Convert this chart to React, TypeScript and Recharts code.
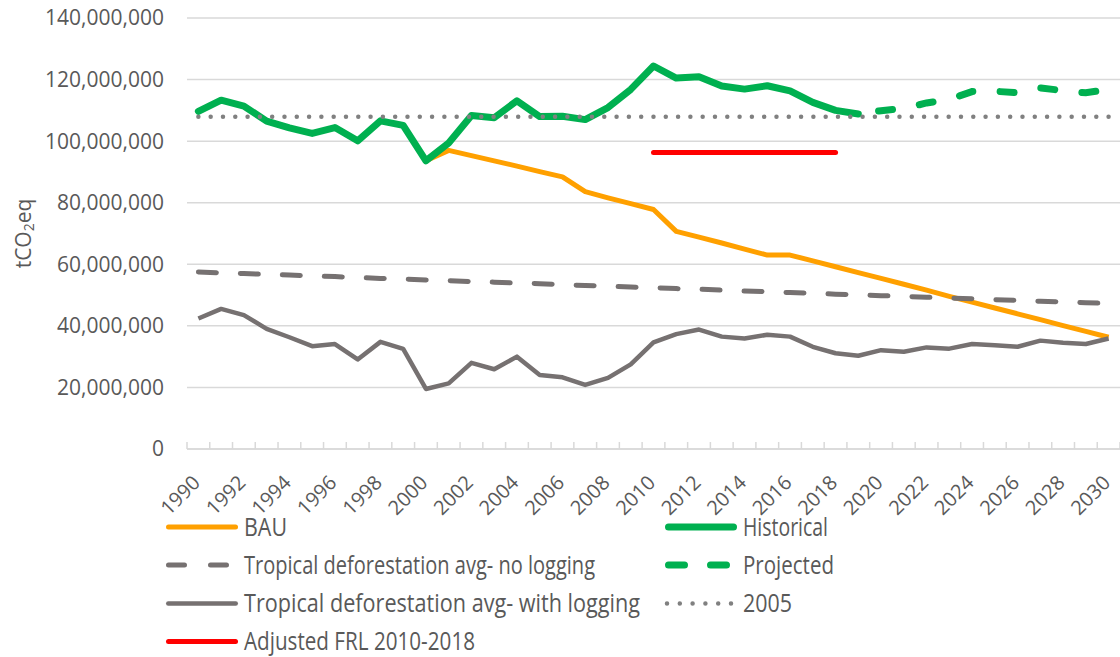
import React from "react";
import {
  LineChart,
  Line,
  XAxis,
  YAxis,
  CartesianGrid,
  ReferenceLine,
} from "recharts";

// values in million tCO2eq
const years = [
  1990, 1991, 1992, 1993, 1994, 1995, 1996, 1997, 1998, 1999, 2000, 2001, 2002, 2003,
  2004, 2005, 2006, 2007, 2008, 2009, 2010, 2011, 2012, 2013, 2014, 2015, 2016, 2017,
  2018, 2019, 2020, 2021, 2022, 2023, 2024, 2025, 2026, 2027, 2028, 2029, 2030,
];

// 1990-2019
const historical = [
  109.7, 113.3, 111.4, 106.5, 104.3, 102.5, 104.4, 100.1, 106.6, 105.1, 93.6, 99.4, 108.3,
  107.6, 113.1, 108.0, 108.1, 107.0, 110.9, 116.8, 124.4, 120.5, 120.9, 117.9, 116.9,
  118.0, 116.3, 112.6, 110.0, 108.8,
];

// 2019-2030
const projected = [108.8, 109.9, 110.6, 112.4, 113.6, 116.1, 116.2, 115.7, 117.3, 116.4, 115.7, 116.8];

// 2000-2030
const bau = [
  93.6, 97.0, 95.3, 93.6, 91.9, 90.1, 88.4, 83.6, 81.6, 79.7, 77.8, 70.7, 68.8, 66.9, 64.9,
  63.0, 63.0, 61.1, 59.2, 57.3, 55.4, 53.5, 51.6, 49.6, 47.7, 45.8, 43.9, 42.0, 40.1, 38.2,
  36.3,
];

// 1990-2030
const noLogging = [
  57.5, 57.2, 57.0, 56.7, 56.5, 56.2, 56.0, 55.7, 55.4, 55.2, 54.9, 54.7, 54.4, 54.2, 53.9,
  53.7, 53.4, 53.1, 52.9, 52.6, 52.4, 52.1, 51.9, 51.6, 51.3, 51.1, 50.8, 50.6, 50.3, 50.1,
  49.8, 49.6, 49.3, 49.0, 48.8, 48.5, 48.3, 48.0, 47.8, 47.5, 47.3,
];

// 1990-2030
const withLogging = [
  42.4, 45.5, 43.5, 39.0, 36.3, 33.4, 34.1, 29.1, 34.8, 32.5, 19.5, 21.3, 28.0, 25.9, 30.0,
  24.0, 23.3, 20.8, 23.1, 27.5, 34.6, 37.3, 38.8, 36.5, 35.9, 37.1, 36.5, 33.2, 31.1, 30.3,
  32.1, 31.6, 33.0, 32.6, 34.1, 33.7, 33.2, 35.2, 34.5, 34.1, 35.9,
];

const level2005 = 107.9;
const adjustedFrl = 96.3;
const frlYears = [2010, 2018];

const yTicks = [0, 20, 40, 60, 80, 100, 120, 140];

const M = 1000000;

const rows = years.map((yr, i) => ({
  year: String(yr),
  historical: yr <= 2019 ? historical[yr - 1990] * M : null,
  projected: yr >= 2019 ? projected[yr - 2019] * M : null,
  bau: yr >= 2000 ? bau[yr - 2000] * M : null,
  noLogging: noLogging[i] * M,
  withLogging: withLogging[i] * M,
}));

const ORANGE = "#FFA000";
const GREEN = "#00B050";
const GREY = "#767171";
const DOT_GREY = "#808080";
const RED = "#FF0000";
const AXIS = "#D9D9D9";
const TEXT = "#595959";
const FONT = "'Open Sans', 'Noto Sans', sans-serif";

const W = 1120;
const H = 657;
const Y_AXIS_W = 187;
const BAND = (W - Y_AXIS_W) / years.length;

const XTick = (props: any) => {
  const { x, y, payload, index } = props;
  const half = BAND / 2;
  return (
    <g>
      <line x1={x - half} x2={x - half} y1={y} y2={y - 7} stroke={AXIS} strokeWidth={1.5} />
      {index === years.length - 1 && (
        <line x1={x + half} x2={x + half} y1={y} y2={y - 7} stroke={AXIS} strokeWidth={1.5} />
      )}
      {index % 2 === 0 && (
        <text
          transform={`translate(${x + 3},${y + 35}) rotate(-45)`}
          textAnchor="end"
          fill={TEXT}
          fontSize={20}
          fontFamily={FONT}
        >
          {payload.value}
        </text>
      )}
    </g>
  );
};

const YLabel = (props: any) => {
  const vb = props.viewBox || { x: 0, y: 18, width: Y_AXIS_W, height: 431 };
  const cx = vb.x + 23;
  const cy = vb.y + vb.height / 2;
  return (
    <text
      transform={`translate(${cx},${cy}) rotate(-90)`}
      textAnchor="middle"
      dominantBaseline="central"
      fill={TEXT}
      fontSize={21}
      fontFamily={FONT}
    >
      tCO
      <tspan dy={5} fontSize={14}>
        2
      </tspan>
      <tspan dy={-5}>eq</tspan>
    </text>
  );
};

const legendItems = [
  { label: "BAU", color: ORANGE, sw: 5, col: 0, row: 0, tw: 43 },
  { label: "Historical", color: GREEN, sw: 7, col: 1, row: 0, tw: 85 },
  { label: "Tropical deforestation avg- no logging", color: GREY, sw: 5, col: 0, row: 1, tw: 351, dash: "16 26" },
  { label: "Projected", color: GREEN, sw: 7, col: 1, row: 1, tw: 91, dash: "16 26" },
  { label: "Tropical deforestation avg- with logging", color: GREY, sw: 4.5, col: 0, row: 2, tw: 396 },
  { label: "2005", color: DOT_GREY, sw: 4.5, col: 1, row: 2, tw: 49, dots: true },
  { label: "Adjusted FRL 2010-2018", color: RED, sw: 5, col: 0, row: 3, tw: 231 },
];

const colX = [166, 665];
const rowY = [527, 565, 603.5, 641.5];

const LegendOverlay = () => (
  <svg
    width={W}
    height={H}
    style={{ position: "absolute", left: 0, top: 0, pointerEvents: "none" }}
  >
    {legendItems.map((it) => {
      const x0 = colX[it.col];
      const y0 = rowY[it.row];
      let x1 = x0 + it.sw / 2;
      let x2 = x0 + 72 - it.sw / 2;
      let dash: string | undefined = it.dash;
      if (it.dots) {
        x1 = x0 + 2;
        x2 = x0 + 2 + 5 * 12.8 + 0.01;
        dash = "0 12.8";
      } else if (it.dash) {
        x1 = x0 + 2.5 + (it.sw - 5) / 2;
        x2 = x1 + 58;
      }
      return (
        <g key={it.label}>
          <line
            x1={x1}
            x2={x2}
            y1={y0}
            y2={y0}
            stroke={it.color}
            strokeWidth={it.sw}
            strokeLinecap="round"
            strokeDasharray={dash}
          />
          <text
            x={x0 + 78}
            y={y0 + 8.5}
            fill={TEXT}
            fontSize={26}
            fontFamily={FONT}
            textLength={it.tw}
            lengthAdjust="spacingAndGlyphs"
          >
            {it.label}
          </text>
        </g>
      );
    })}
  </svg>
);

export default function App() {
  return (
    <div style={{ position: "absolute", left: 0, top: 0, width: W, height: H, background: "#fff" }}>
      <LineChart
        width={W}
        height={H}
        data={rows}
        margin={{ top: 18, right: 0, bottom: 0, left: 0 }}
      >
        <CartesianGrid vertical={false} stroke={AXIS} strokeWidth={1.5} />
        <XAxis
          dataKey="year"
          interval={0}
          height={208}
          padding={{ left: BAND / 2, right: BAND / 2 }}
          tickLine={false}
          tickSize={0}
          tickMargin={0}
          axisLine={{ stroke: AXIS, strokeWidth: 1.5 }}
          tick={<XTick />}
        />
        <YAxis
          width={Y_AXIS_W}
          domain={[0, 140 * M]}
          ticks={yTicks.map((t) => t * M)}
          axisLine={false}
          tickLine={false}
          tickSize={0}
          tickMargin={23}
          tick={{ fill: TEXT, fontSize: 21, fontFamily: FONT }}
          tickFormatter={(v: number) => v.toLocaleString("en-US")}
          label={<YLabel />}
        />
        <Line
          dataKey="bau"
          stroke={ORANGE}
          strokeWidth={5}
          dot={false}
          activeDot={false}
          strokeLinejoin="round"
          isAnimationActive={false}
        />
        <Line
          dataKey="historical"
          stroke={GREEN}
          strokeWidth={7}
          dot={false}
          activeDot={false}
          strokeLinejoin="round"
          strokeLinecap="round"
          isAnimationActive={false}
        />
        <Line
          dataKey="noLogging"
          stroke={GREY}
          strokeWidth={5}
          strokeDasharray="18 24"
          strokeLinecap="round"
          dot={false}
          activeDot={false}
          isAnimationActive={false}
        />
        <Line
          dataKey="projected"
          stroke={GREEN}
          strokeWidth={7}
          strokeDasharray="14 27.3"
          strokeDashoffset={20.8}
          strokeLinecap="round"
          dot={false}
          activeDot={false}
          isAnimationActive={false}
        />
        <Line
          dataKey="withLogging"
          stroke={GREY}
          strokeWidth={4.5}
          strokeLinejoin="round"
          dot={false}
          activeDot={false}
          isAnimationActive={false}
        />
        <ReferenceLine
          segment={[
            { x: String(years[0]), y: level2005 * M },
            { x: String(years[years.length - 1]), y: level2005 * M },
          ]}
          stroke={DOT_GREY}
          strokeWidth={4.5}
          strokeDasharray="0 12.3"
          strokeLinecap="round"
        />
        <ReferenceLine
          segment={[
            { x: String(frlYears[0]), y: adjustedFrl * M },
            { x: String(frlYears[1]), y: adjustedFrl * M },
          ]}
          stroke={RED}
          strokeWidth={5}
          strokeLinecap="round"
        />
      </LineChart>
      <LegendOverlay />
    </div>
  );
}
